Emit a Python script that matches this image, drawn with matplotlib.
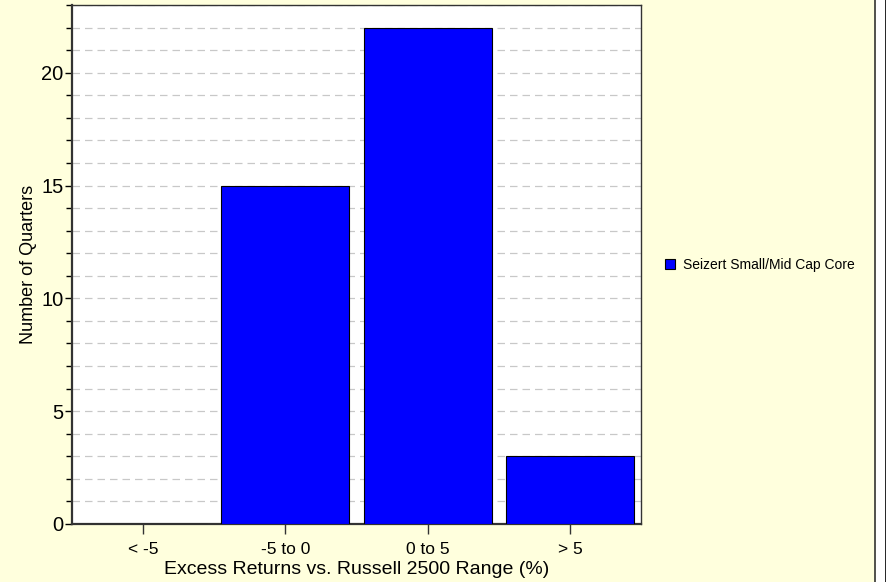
import matplotlib
matplotlib.use("Agg")
import matplotlib.pyplot as plt
from matplotlib.lines import Line2D
from matplotlib.patches import Rectangle
from matplotlib.ticker import MultipleLocator

categories = ["< -5", "-5 to 0", "0 to 5", "> 5"]
quarters = [0, 15, 22, 3]
series_name = "Seizert Small/Mid Cap Core"

BG = "#FFFFDD"
BAR = "#0000FF"

plt.rcParams["font.family"] = ["Liberation Sans", "DejaVu Sans"]

fig = plt.figure(figsize=(8.86, 5.82), dpi=100, facecolor=BG)
ax = fig.add_axes([0.0813, 0.0997, 0.6422, 0.8917])
ax.set_facecolor("white")

x = list(range(len(categories)))
ax.bar(x, quarters, width=0.9, color=BAR, edgecolor="black", linewidth=0.8,
       label=series_name, zorder=3)

ax.set_xlim(-0.5, 3.5)
ax.set_ylim(0, 23)
ax.set_xticks(x)
ax.set_xticklabels(categories)
ax.yaxis.set_major_locator(MultipleLocator(5))
ax.yaxis.set_minor_locator(MultipleLocator(1))
ax.tick_params(axis="y", which="major", direction="out", length=5, width=1,
               labelsize=14.5, pad=1)
ax.tick_params(axis="y", which="minor", direction="out", length=4, width=1)
ax.tick_params(axis="x", which="major", direction="out", length=7, width=1,
               labelsize=12.5, pad=6, color="#333333")
ax.grid(True, axis="y", which="both", linestyle=(0, (6, 4)), color="#C8C8C8",
        linewidth=0.9, zorder=0)

for side in ["left", "bottom"]:
    ax.spines[side].set_linewidth(1.6)
    ax.spines[side].set_color("#333333")
for side in ["top", "right"]:
    ax.spines[side].set_linewidth(1.0)
    ax.spines[side].set_color("#333333")

ax.set_xlabel("Excess Returns vs. Russell 2500 Range (%)", fontsize=14, labelpad=3)
ax.set_ylabel("Number of Quarters", fontsize=13, labelpad=3)

# legend
fig.legend(handles=[Rectangle((0, 0), 1, 1, facecolor=BAR, edgecolor="black", linewidth=0.8)],
           labels=[series_name], loc="center left", bbox_to_anchor=(0.737, 0.545),
           frameon=False, fontsize=10, handlelength=0.65, handleheight=0.65,
           handletextpad=0.6)

# frame line at right edge
fig.add_artist(Line2D([0.9875, 0.9875], [0, 1], color="#333333", linewidth=1.2,
                      transform=fig.transFigure))
fig.add_artist(Rectangle((0.989, 0), 0.011, 1, facecolor="white", edgecolor="none",
                         transform=fig.transFigure))
fig.add_artist(Line2D([0.9995, 0.9995], [0, 1], color="black", linewidth=1.2,
                      transform=fig.transFigure))

fig.savefig("out.png", dpi=100, facecolor=BG)
